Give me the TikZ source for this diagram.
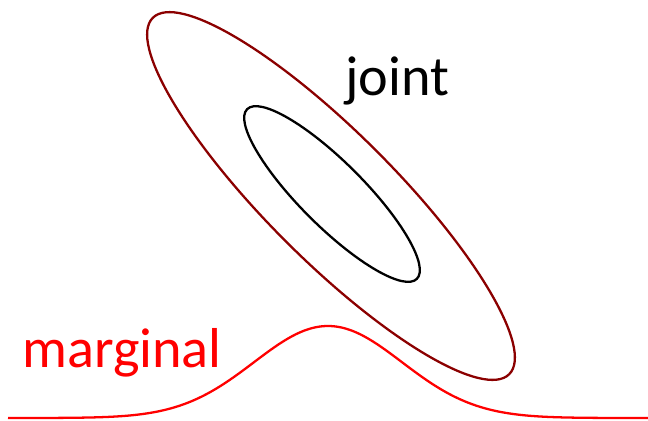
\documentclass[tikz,border=0pt]{standalone}
\usepackage{fontspec}
\setmainfont{Carlito}
\usepackage{xcolor}
\usetikzlibrary{positioning, calc}
\definecolor{darkredx}{HTML}{8B0000}
\definecolor{redx}{HTML}{FF0000}

\begin{document}
\begin{tikzpicture}[
  x=0.02cm, y=-0.02cm,
  font=\fontsize{32}{36}\selectfont,
  contour/.style={line width=1.3pt},
  lbl/.style={inner sep=0pt, anchor=base west},
]
\useasboundingbox (0,0) rectangle (648,420);

\coordinate (c) at (331,196);
\coordinate (ci) at (332,194);

% joint distribution contours
\draw[contour, draw=darkredx, rotate around={-45:(c)}] (c) ellipse [x radius=252, y radius=64];
\draw[contour, draw=black, rotate around={-45:(ci)}] (ci) ellipse [x radius=120, y radius=32];

% marginal density
\draw[contour, draw=redx, smooth, samples=120, domain=8:648]
  plot (\x, {418 - 92*exp(-((\x-328)/74)^2/2)});

\node[lbl] (joint) at (345,95) {joint};
\node[lbl, text=redx] (marginal) at (22,367) {marginal};
\end{tikzpicture}
\end{document}
